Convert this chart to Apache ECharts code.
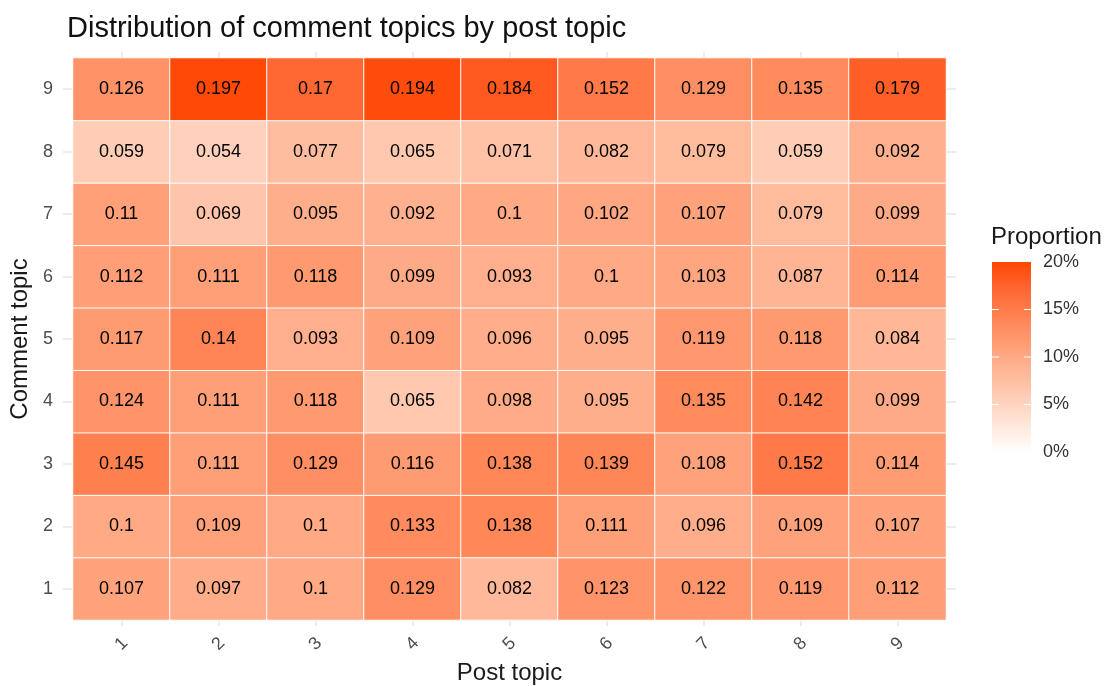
<!DOCTYPE html>
<html>
<head>
<meta charset="utf-8">
<title>Distribution of comment topics by post topic</title>
<script src="https://cdn.jsdelivr.net/npm/echarts@6/dist/echarts.min.js"></script>
<style>
  html, body { margin: 0; padding: 0; background: #ffffff; }
  #chart { width: 1108px; height: 686px; }
</style>
</head>
<body>
<div id="chart"></div>
<script>
// Topic labels for both axes
const postTopics = ['1', '2', '3', '4', '5', '6', '7', '8', '9'];
const commentTopics = ['1', '2', '3', '4', '5', '6', '7', '8', '9'];

// Share of comments in each comment topic, one array per comment topic,
// values ordered by post topic 1..9
const comment1 = [0.107, 0.097, 0.1, 0.129, 0.082, 0.123, 0.122, 0.119, 0.112];
const comment2 = [0.1, 0.109, 0.1, 0.133, 0.138, 0.111, 0.096, 0.109, 0.107];
const comment3 = [0.145, 0.111, 0.129, 0.116, 0.138, 0.139, 0.108, 0.152, 0.114];
const comment4 = [0.124, 0.111, 0.118, 0.065, 0.098, 0.095, 0.135, 0.142, 0.099];
const comment5 = [0.117, 0.14, 0.093, 0.109, 0.096, 0.095, 0.119, 0.118, 0.084];
const comment6 = [0.112, 0.111, 0.118, 0.099, 0.093, 0.1, 0.103, 0.087, 0.114];
const comment7 = [0.11, 0.069, 0.095, 0.092, 0.1, 0.102, 0.107, 0.079, 0.099];
const comment8 = [0.059, 0.054, 0.077, 0.065, 0.071, 0.082, 0.079, 0.059, 0.092];
const comment9 = [0.126, 0.197, 0.17, 0.194, 0.184, 0.152, 0.129, 0.135, 0.179];

// Colour scale limits and legend ticks
const scaleMin = 0;
const scaleMax = 0.2;
const legendTicks = [0, 0.05, 0.1, 0.15, 0.2];

const rows = [comment1, comment2, comment3, comment4, comment5, comment6, comment7, comment8, comment9];
const cells = [];
rows.forEach((row, yi) => {
  row.forEach((v, xi) => cells.push([xi, yi, v]));
});

// White -> orangered gradient interpolated in CIE Lab space
function toLinear(c) { c /= 255; return c <= 0.04045 ? c / 12.92 : Math.pow((c + 0.055) / 1.055, 2.4); }
function toSrgb(c) {
  const v = c <= 0.0031308 ? 12.92 * c : 1.055 * Math.pow(c, 1 / 2.4) - 0.055;
  return Math.round(Math.max(0, Math.min(1, v)) * 255);
}
const Xn = 0.95047, Yn = 1.0, Zn = 1.08883;
function fLab(t) { return t > 0.008856 ? Math.cbrt(t) : 7.787 * t + 16 / 116; }
function fInv(f) { const f3 = f * f * f; return f3 > 0.008856 ? f3 : (f - 16 / 116) / 7.787; }
function rgbToLab(rgb) {
  const r = toLinear(rgb[0]), g = toLinear(rgb[1]), b = toLinear(rgb[2]);
  const X = (0.4124 * r + 0.3576 * g + 0.1805 * b) / Xn;
  const Y = (0.2126 * r + 0.7152 * g + 0.0722 * b) / Yn;
  const Z = (0.0193 * r + 0.1192 * g + 0.9505 * b) / Zn;
  const fx = fLab(X), fy = fLab(Y), fz = fLab(Z);
  return [116 * fy - 16, 500 * (fx - fy), 200 * (fy - fz)];
}
function labToHex(lab) {
  const fy = (lab[0] + 16) / 116, fx = fy + lab[1] / 500, fz = fy - lab[2] / 200;
  const X = Xn * fInv(fx), Y = Yn * fInv(fy), Z = Zn * fInv(fz);
  const r = 3.2406 * X - 1.5372 * Y - 0.4986 * Z;
  const g = -0.9689 * X + 1.8758 * Y + 0.0415 * Z;
  const b = 0.0557 * X - 0.2040 * Y + 1.0570 * Z;
  return '#' + [r, g, b].map(c => toSrgb(c).toString(16).padStart(2, '0')).join('');
}
const lowLab = rgbToLab([255, 255, 255]);
const highLab = rgbToLab([255, 69, 0]);
const nStops = 21;
const rampColors = [];
for (let i = 0; i < nStops; i++) {
  const t = i / (nStops - 1);
  rampColors.push(labToHex([0, 1, 2].map(k => lowLab[k] + (highLab[k] - lowLab[k]) * t)));
}

const labelFont = '"Liberation Sans", Arial, sans-serif';

// Colour bar geometry
const bar = { x: 992, y: 262, w: 39, h: 190 };
const barStops = rampColors.map((c, i) => ({ offset: 1 - i / (nStops - 1), color: c }));
const legendGraphics = [
  {
    type: 'text', left: 991, top: 225,
    style: { text: 'Proportion', font: '24px ' + labelFont, fill: '#1a1a1a' }
  },
  {
    type: 'rect', shape: { x: bar.x, y: bar.y, width: bar.w, height: bar.h },
    style: { fill: new echarts.graphic.LinearGradient(0, 0, 0, 1, barStops) }
  }
];
legendTicks.forEach(v => {
  const y = bar.y + bar.h * (1 - (v - scaleMin) / (scaleMax - scaleMin));
  if (v > scaleMin && v < scaleMax) {
    legendGraphics.push({ type: 'line', shape: { x1: bar.x, y1: y, x2: bar.x + 7, y2: y }, style: { stroke: '#ffffff', lineWidth: 1 } });
    legendGraphics.push({ type: 'line', shape: { x1: bar.x + bar.w - 7, y1: y, x2: bar.x + bar.w, y2: y }, style: { stroke: '#ffffff', lineWidth: 1 } });
  }
  legendGraphics.push({
    type: 'text', x: 1043, y: y,
    style: {
      text: Math.round(v * 100) + '%', font: '18px ' + labelFont,
      fill: '#333333', verticalAlign: 'middle', align: 'left'
    }
  });
});

const tickColor = '#e6e6e6';

const chart = echarts.init(document.getElementById('chart'), null, { renderer: 'canvas' });
chart.setOption({
  backgroundColor: '#ffffff',
  animation: false,
  title: {
    text: 'Distribution of comment topics by post topic',
    left: 62, top: 9,
    textStyle: { fontFamily: labelFont, fontSize: 29, fontWeight: 'normal', color: '#111111' }
  },
  grid: {
    left: 73, top: 58, width: 873, height: 562,
    containLabel: false, outerBoundsMode: 'none'
  },
  xAxis: [
    {
      type: 'category', data: postTopics, position: 'bottom',
      name: 'Post topic', nameLocation: 'middle', nameGap: 39,
      nameTextStyle: { fontFamily: labelFont, fontSize: 24, color: '#1a1a1a' },
      axisLine: { show: false },
      axisTick: { show: true, alignWithLabel: true, length: 6, lineStyle: { color: tickColor, width: 1.5 } },
      axisLabel: {
        rotate: 45, margin: 24, align: 'center', verticalAlign: 'middle',
        fontFamily: labelFont, fontSize: 18, color: '#4d4d4d'
      },
      splitLine: { show: false }
    },
    {
      type: 'category', data: postTopics, position: 'top',
      axisLine: { show: false },
      axisTick: { show: true, alignWithLabel: true, length: 6, lineStyle: { color: tickColor, width: 1.5 } },
      axisLabel: { show: false },
      splitLine: { show: false }
    }
  ],
  yAxis: [
    {
      type: 'category', data: commentTopics, position: 'left',
      name: 'Comment topic', nameLocation: 'middle', nameGap: 33, nameRotate: 90,
      nameTextStyle: { fontFamily: labelFont, fontSize: 24, color: '#1a1a1a' },
      axisLine: { show: false },
      axisTick: { show: true, alignWithLabel: true, length: 10, lineStyle: { color: tickColor, width: 1.5 } },
      axisLabel: { margin: 20, fontFamily: labelFont, fontSize: 18, color: '#4d4d4d' },
      splitLine: { show: false }
    },
    {
      type: 'category', data: commentTopics, position: 'right',
      axisLine: { show: false },
      axisTick: { show: true, alignWithLabel: true, length: 10, lineStyle: { color: tickColor, width: 1.5 } },
      axisLabel: { show: false },
      splitLine: { show: false }
    }
  ],
  visualMap: {
    show: false, type: 'continuous', min: scaleMin, max: scaleMax, dimension: 2,
    seriesIndex: 0, inRange: { color: rampColors }
  },
  graphic: legendGraphics,
  series: [{
    type: 'heatmap',
    xAxisIndex: 0, yAxisIndex: 0,
    data: cells,
    itemStyle: { borderColor: '#ffffff', borderWidth: 1 },
    label: {
      show: true,
      formatter: p => String(p.value[2]),
      fontFamily: labelFont, fontSize: 18, color: '#000000'
    },
    emphasis: { disabled: true }
  }]
});
</script>
</body>
</html>
